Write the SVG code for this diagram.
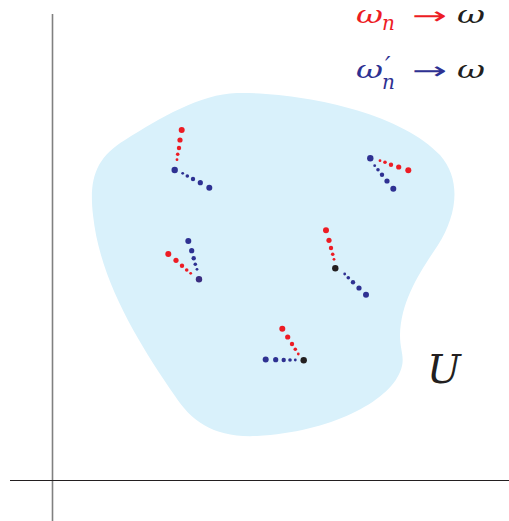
<svg xmlns="http://www.w3.org/2000/svg" width="509" height="521" viewBox="0 0 509 521">
<style>
.r{fill:#ed1c24}.b{fill:#2e3192}.k{fill:#231f20}.p{fill:#3b2d80}
.m{font-family:"DejaVu Serif","Liberation Serif",serif;font-style:italic}
.ar{font-family:"DejaVu Sans","Liberation Sans",sans-serif;font-style:normal}
</style>
<rect width="509" height="521" fill="#fff"/>
<path id="U-region" d="M237,93 C300,92 400,112 440,155 C462,180 457,215 438,245 C420,272 401,300 400,335 C400,352 406,358 400,372 C388,402 330,432 257,436 C215,438 192,422 175,396 C140,345 100,282 93,215 C89,180 95,158 125,140 C160,118 200,94 237,93 Z" fill="#d9f1fb"/>
<line id="y-axis" x1="52.5" y1="14" x2="52.5" y2="521" stroke="#808080" stroke-width="1.6"/>
<line id="x-axis" x1="10" y1="480.5" x2="509" y2="480.5" stroke="#231f20" stroke-width="1.2"/>
<g id="cluster1">
<circle class="r" cx="181.7" cy="130" r="3"/><circle class="r" cx="180" cy="140" r="2.6"/><circle class="r" cx="179" cy="148" r="2.2"/><circle class="r" cx="177.7" cy="154.3" r="1.8"/><circle class="r" cx="177" cy="159.7" r="1.4"/>
<circle class="b" cx="209.3" cy="187.7" r="3"/><circle class="b" cx="200.3" cy="182.7" r="2.6"/><circle class="b" cx="193" cy="179" r="2.2"/><circle class="b" cx="187.3" cy="176" r="1.8"/><circle class="b" cx="182.7" cy="173.3" r="1.4"/>
<circle class="b" cx="174.7" cy="170" r="3.2"/>
</g>
<g id="cluster2">
<circle class="r" cx="408.3" cy="170.3" r="3"/><circle class="r" cx="398.7" cy="167" r="2.6"/><circle class="r" cx="391" cy="164.7" r="2.2"/><circle class="r" cx="385" cy="162.3" r="1.8"/><circle class="r" cx="380" cy="160.7" r="1.4"/>
<circle class="b" cx="393.3" cy="188.7" r="3"/><circle class="b" cx="387" cy="181" r="2.6"/><circle class="b" cx="382" cy="174.7" r="2.2"/><circle class="b" cx="378" cy="169.7" r="1.8"/><circle class="b" cx="374.7" cy="165.7" r="1.4"/>
<circle class="b" cx="370.3" cy="158.3" r="3.2"/>
</g>
<g id="cluster3">
<circle class="r" cx="168.3" cy="254" r="3"/><circle class="r" cx="176" cy="260.3" r="2.6"/><circle class="r" cx="182" cy="265.7" r="2.2"/><circle class="r" cx="186.7" cy="270" r="1.8"/><circle class="r" cx="190.7" cy="273.3" r="1.4"/>
<circle class="b" cx="188.3" cy="241" r="3"/><circle class="b" cx="191.7" cy="250.7" r="2.6"/><circle class="b" cx="193.7" cy="258.3" r="2.2"/><circle class="b" cx="195.3" cy="264.3" r="1.8"/><circle class="b" cx="197" cy="269.3" r="1.4"/>
<circle class="p" cx="199" cy="279.3" r="3.2"/>
</g>
<g id="cluster4">
<circle class="r" cx="326" cy="230.3" r="3"/><circle class="r" cx="329" cy="240.3" r="2.6"/><circle class="r" cx="331" cy="248" r="2.2"/><circle class="r" cx="332.7" cy="254.3" r="1.8"/><circle class="r" cx="334" cy="259.3" r="1.4"/>
<circle class="b" cx="366" cy="294.7" r="3"/><circle class="b" cx="359" cy="288" r="2.6"/><circle class="b" cx="353" cy="282.3" r="2.2"/><circle class="b" cx="348.3" cy="277.7" r="1.8"/><circle class="b" cx="344.7" cy="274" r="1.4"/>
<circle class="k" cx="335.3" cy="268.3" r="3.2"/>
</g>
<g id="cluster5">
<circle class="r" cx="282.3" cy="328.7" r="3"/><circle class="r" cx="287.7" cy="337" r="2.6"/><circle class="r" cx="292" cy="344" r="2.2"/><circle class="r" cx="295.3" cy="349.3" r="1.8"/><circle class="r" cx="298.3" cy="354" r="1.4"/>
<circle class="b" cx="265.7" cy="359.5" r="3"/><circle class="b" cx="275.7" cy="359.7" r="2.6"/><circle class="b" cx="283.7" cy="360" r="2.2"/><circle class="b" cx="290" cy="360" r="1.8"/><circle class="b" cx="295.3" cy="360" r="1.4"/>
<circle class="k" cx="303.7" cy="360.3" r="3.2"/>
</g>
<g id="label-U"><text class="m k" x="427" y="383" font-size="40">U</text></g>
<g id="legend">
<text class="m" font-size="24"><tspan class="r" x="356" y="22.5" textLength="27" lengthAdjust="spacingAndGlyphs">ω</tspan><tspan class="r" x="382" y="29.5" font-size="20">n</tspan><tspan class="ar r" x="412" y="23.5" textLength="35" lengthAdjust="spacingAndGlyphs">→</tspan><tspan class="k" x="457" y="22.5" textLength="28" lengthAdjust="spacingAndGlyphs">ω</tspan></text>
<text class="m" font-size="24"><tspan class="b" x="356" y="77.5" textLength="27" lengthAdjust="spacingAndGlyphs">ω</tspan><tspan class="b" x="385" y="74" font-size="24">′</tspan><tspan class="b" x="382" y="89" font-size="20">n</tspan><tspan class="ar b" x="412" y="79" textLength="35" lengthAdjust="spacingAndGlyphs">→</tspan><tspan class="k" x="457" y="77.5" textLength="28" lengthAdjust="spacingAndGlyphs">ω</tspan></text>
</g>
</svg>
